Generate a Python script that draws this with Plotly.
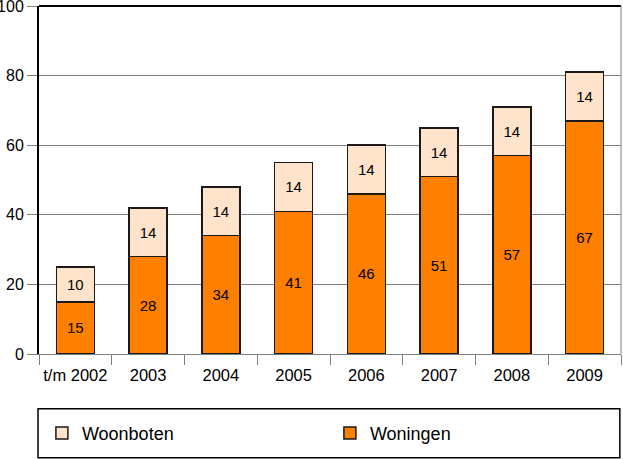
import plotly.graph_objects as go

categories = ["t/m 2002", "2003", "2004", "2005", "2006", "2007", "2008", "2009"]
woningen = [15, 28, 34, 41, 46, 51, 57, 67]
woonboten = [10, 14, 14, 14, 14, 14, 14, 14]
y_ticks = [0, 20, 40, 60, 80, 100]

FONT = "Liberation Sans, Arial, sans-serif"

fig = go.Figure()
fig.add_trace(go.Bar(
    x=categories, y=woningen, name="Woningen",
    marker=dict(color="#FF7F00", line=dict(color="#1a1a1a", width=1.5)),
    text=woningen, textposition="inside", insidetextanchor="middle",
    textfont=dict(size=15, color="black", family=FONT),
    textangle=0, constraintext="none", width=0.52,
))
fig.add_trace(go.Bar(
    x=categories, y=woonboten, name="Woonboten",
    marker=dict(color="#FFE3CA", line=dict(color="#1a1a1a", width=1.5)),
    text=woonboten, textposition="inside", insidetextanchor="middle",
    textfont=dict(size=15, color="black", family=FONT),
    textangle=0, constraintext="none", width=0.52,
))

fig.update_layout(
    barmode="stack",
    width=623, height=459,
    margin=dict(l=39, r=2, t=6, b=105, autoexpand=False),
    paper_bgcolor="white", plot_bgcolor="white",
    font=dict(family=FONT, size=16, color="black"),
    showlegend=True,
    legend=dict(
        orientation="h", x=0.005, y=-0.228, xanchor="left", yanchor="middle",
        traceorder="reversed", entrywidth=243, entrywidthmode="pixels",
        font=dict(size=18, family=FONT), bgcolor="rgba(0,0,0,0)",
    ),
    xaxis=dict(
        showline=True, linecolor="#808080", linewidth=1,
        ticks="outside", tickson="boundaries", ticklen=10, tickcolor="#808080",
        tickfont=dict(size=16.5), showgrid=False, ticklabelstandoff=6,
        tickangle=0, automargin=False,
    ),
    yaxis=dict(
        range=[0, 100], tickvals=y_ticks, showline=True, linecolor="black", linewidth=2,
        ticks="outside", ticklen=10, tickcolor="#808080",
        showgrid=True, gridcolor="#808080", gridwidth=1,
        tickfont=dict(size=16), zeroline=False, ticklabeloverflow="allow",
        automargin=False,
    ),
    shapes=[
        dict(type="line", xref="paper", yref="paper", x0=0, x1=1, y0=1, y1=1,
             line=dict(color="black", width=2)),
        dict(type="line", xref="paper", yref="paper", x0=1, x1=1, y0=0, y1=1,
             line=dict(color="#808080", width=1)),
        dict(type="rect", xref="paper", yref="paper", x0=-0.0017, x1=0.998,
             y0=-0.298, y1=-0.1576, line=dict(color="black", width=1.5)),
    ],
)

fig.write_html("out.html")
